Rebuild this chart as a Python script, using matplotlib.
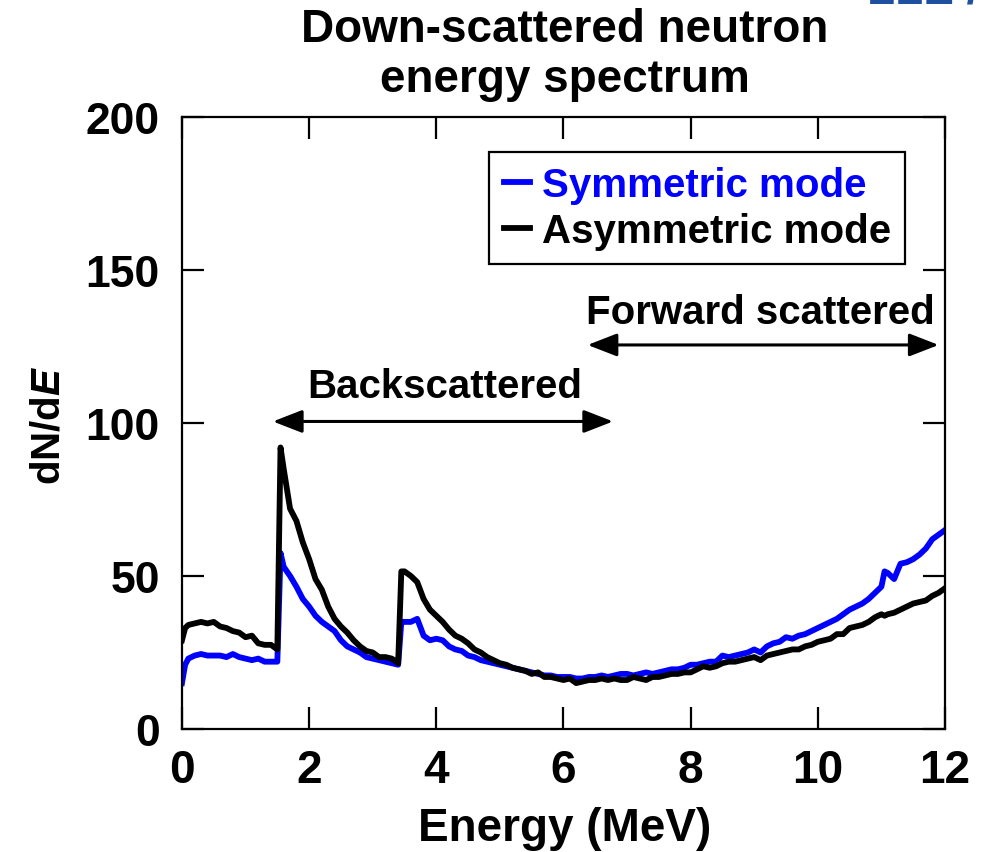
import numpy as np
import matplotlib
matplotlib.use("Agg")
import matplotlib.pyplot as plt

plt.rcParams['font.family'] = ['Liberation Sans', 'DejaVu Sans']
plt.rcParams['font.weight'] = 'bold'
plt.rcParams['mathtext.fontset'] = 'custom'
plt.rcParams['mathtext.it'] = 'Liberation Sans:italic:bold'
plt.rcParams['mathtext.rm'] = 'Liberation Sans:bold'

# ---------------- data ----------------
energy = np.round(np.sort(np.concatenate([np.arange(0, 12.0001, 0.1),
                                          [0.05, 1.55, 3.45, 11.05]])), 2)

symmetric = [
    15, 21, 23, 24, 24.5, 24, 24, 24, 23.5, 24.5, 23.5,          # 0.0-0.9
    23, 22.5, 23, 22, 22, 22, 57.5, 53, 50, 46.5, 42.5,          # 1.0-1.9
    40, 37, 35, 33.5, 32, 29, 27, 26, 25, 23.5,                  # 2.0-2.9
    23, 22.5, 22, 21.5, 21, 35, 35, 35, 36, 30.5, 29,            # 3.0-3.9
    29.5, 29, 27, 26, 25.5, 24, 23.5, 22.5, 22, 21.5,            # 4.0-4.9
    21, 20.5, 20, 19.5, 19, 18.5, 18, 17.5, 17.5, 17,            # 5.0-5.9
    17, 17, 16.5, 16.5, 17, 17, 17.5, 17, 17.5, 18,              # 6.0-6.9
    18, 17.5, 18, 18.5, 18, 18.5, 19, 19.5, 19.5, 20,            # 7.0-7.9
    21, 21, 21.5, 22, 22, 24, 23.5, 24, 24.5, 25,                # 8.0-8.9
    26, 25, 27, 28, 28.5, 30, 29.5, 30.5, 31, 32,                # 9.0-9.9
    33, 34, 35, 36, 37.5, 39, 40, 41, 42.5, 44.5,                # 10.0-10.9
    46.5, 51.5, 51, 49, 54, 54.5, 55.5, 57, 59, 62, 63.5,        # 11.0-11.9
    65,                                                          # 12.0
]

asymmetric = [
    29, 33, 34, 34.5, 35, 34.5, 35, 33.5, 33, 32, 31.5,          # 0.0-0.9
    30, 30.5, 28, 27.5, 27.5, 26, 92, 85, 72, 68, 61,            # 1.0-1.9
    55.5, 49, 45.5, 40, 36, 33.5, 31.5, 29, 27, 25.5,            # 2.0-2.9
    25, 23.5, 23.5, 23, 21.5, 51.5, 51.5, 50, 48, 42.5, 39,      # 3.0-3.9
    37, 35, 32.5, 30.5, 29.5, 28, 26, 25, 23.5, 22.5,            # 4.0-4.9
    21.5, 21, 20, 19.5, 19, 18, 18.5, 17, 17, 16.5,              # 5.0-5.9
    16, 16.5, 15, 15.5, 16, 16, 16.5, 16, 16.5, 16,              # 6.0-6.9
    16, 17, 16.5, 16, 17, 17, 17.5, 18, 18, 18.5,                # 7.0-7.9
    18.5, 19.5, 20.5, 20, 20.5, 21.5, 22, 22, 22.5, 23,          # 8.0-8.9
    23.5, 22.5, 24, 24.5, 25, 25.5, 26, 26, 27, 27.5,            # 9.0-9.9
    28.5, 29, 29.5, 31, 31, 33, 33.5, 34, 35, 36.5,              # 10.0-10.9
    37.5, 37, 37.5, 38, 39, 40, 41, 41.5, 42, 43.5, 44.5,        # 11.0-11.9
    46,                                                          # 12.0
]

series_labels = ["Symmetric mode", "Asymmetric mode"]
series_colors = ["#0000ff", "#000000"]
x_ticks = [0, 2, 4, 6, 8, 10, 12]
y_ticks = [0, 50, 100, 150, 200]

# ---------------- figure ----------------
fig = plt.figure(figsize=(9.82, 8.53), dpi=100)
ax = fig.add_axes([0.1853, 0.1442, 0.777, 0.7175])

ax.plot(energy, symmetric, color=series_colors[0], lw=4.2, label=series_labels[0],
        solid_joinstyle='round')
ax.plot(energy, asymmetric, color=series_colors[1], lw=4.2, label=series_labels[1],
        solid_joinstyle='round')

ax.set_xlim(0, 12)
ax.set_ylim(0, 200)
ax.set_xticks(x_ticks)
ax.set_yticks(y_ticks)
ax.tick_params(direction='in', top=True, right=True, length=16, width=1.6)
ax.tick_params(axis='x', pad=14, labelsize=33)
ax.tick_params(axis='y', pad=16, labelsize=32)
for lab in ax.get_xticklabels() + ax.get_yticklabels():
    lab.set_fontweight('bold')
for sp in ax.spines.values():
    sp.set_linewidth(1.6)

# annotations
arrow_kw = dict(arrowstyle='<|-|>,head_length=0.9,head_width=0.35', lw=2.2,
                color='black', mutation_scale=20, shrinkA=0, shrinkB=0)
ax.annotate('', xy=(1.43, 100.5), xytext=(6.78, 100.5), arrowprops=arrow_kw)
ax.annotate('', xy=(6.38, 125.5), xytext=(11.9, 125.5), arrowprops=arrow_kw)
ax.text(4.14, 112, 'Backscattered', ha='center', va='center', fontsize=29, fontweight='bold')
ax.text(9.1, 136.3, 'Forward scattered', ha='center', va='center', fontsize=29, fontweight='bold')

# legend
leg = ax.legend(loc='upper right', bbox_to_anchor=(905 / 982, 1 - 153 / 853),
                bbox_transform=fig.transFigure, borderaxespad=0,
                handlelength=0.65, handletextpad=0.3, labelspacing=0.2,
                borderpad=0.35, fancybox=False, framealpha=1, edgecolor='black',
                prop={'weight': 'bold', 'size': 29})
leg.get_frame().set_linewidth(1.6)
for txt, c in zip(leg.get_texts(), series_colors):
    txt.set_color(c)

# labels and title
fig.text(565 / 982, 1 - 55 / 853, 'Down-scattered neutron\nenergy spectrum',
         ha='center', va='center', fontsize=33, fontweight='bold', linespacing=1.17)
fig.text(565 / 982, 1 - 829 / 853, 'Energy (MeV)', ha='center', va='center',
         fontsize=33, fontweight='bold')
fig.text(48 / 982, 1 - 425 / 853, r'dN/d$\mathit{E}$', ha='center', va='center',
         rotation=90, fontsize=29, fontweight='bold')

# partially visible logo text at top right
fig.text(867 / 982, 1 - 4 / 853, 'LLE /', ha='left', va='baseline',
         fontsize=33, fontweight='bold', color='#1f4f9f')

fig.savefig('out.png', dpi=100)
